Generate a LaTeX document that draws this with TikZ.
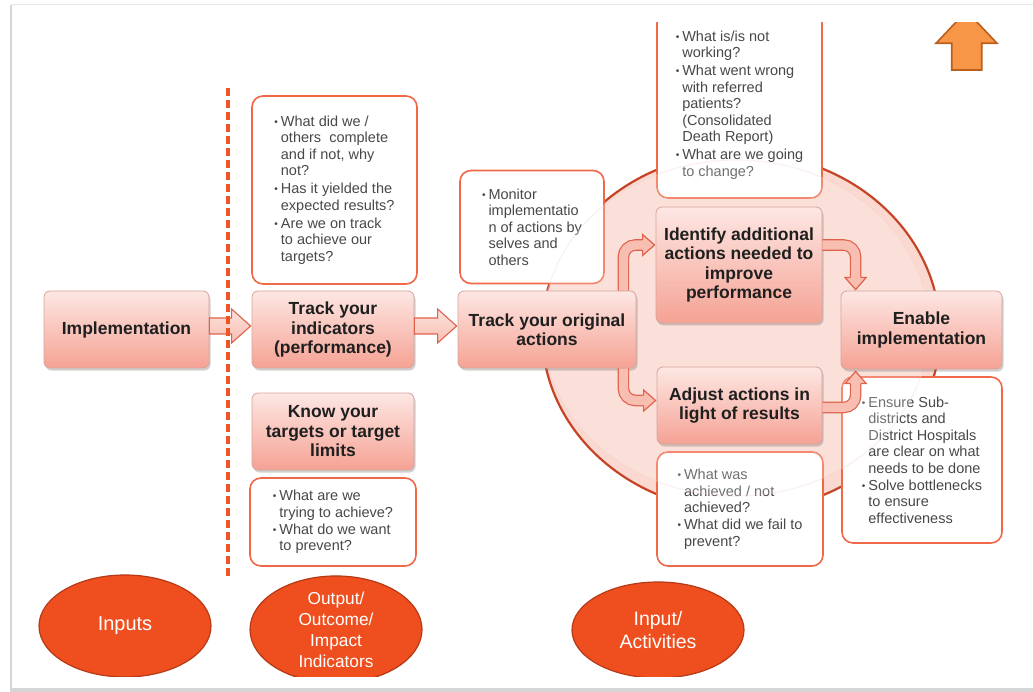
\documentclass[tikz,border=0pt]{standalone}
\usepackage{fontspec}
\setmainfont{Liberation Sans}
\usetikzlibrary{calc,shadows,shapes.geometric}

\definecolor{boxtop}{RGB}{253,231,227}
\definecolor{boxbot}{RGB}{245,162,148}
\definecolor{boxline}{RGB}{214,165,156}
\definecolor{noteline}{RGB}{240,104,72}
\definecolor{notetext}{RGB}{72,72,72}
\definecolor{ringfill}{RGB}{251,216,208}
\definecolor{ringline}{RGB}{198,68,38}
\definecolor{ovalfill}{RGB}{239,78,30}
\definecolor{ovalline}{RGB}{182,58,22}
\definecolor{arrowfill}{RGB}{248,190,178}
\definecolor{arrowline}{RGB}{222,98,74}
\definecolor{upfill}{RGB}{247,150,70}
\definecolor{upline}{RGB}{188,94,30}
\definecolor{dashcol}{RGB}{238,84,36}
\definecolor{framecol}{RGB}{214,214,214}

% bullet and hanging indent for the question lists
\newcommand\notebul{\makebox[6.5pt][l]{\raisebox{0.1ex}{\scalebox{0.7}{\textbullet}}}}
\newcommand\noteind{\hspace*{6.5pt}}

% straight block arrow from #1 (shaft start) to #2 (tip), horizontal
\newcommand\straightarrow[2]{%
  \path[blockarrow] let \p1=(#1), \p2=(#2) in
    (\x1,\y1+8pt) -- (\x2-19pt,\y1+8pt) -- (\x2-19pt,\y1+17pt) -- (\x2,\y1)
    -- (\x2-19pt,\y1-17pt) -- (\x2-19pt,\y1-8pt) -- (\x1,\y1-8pt) -- cycle;}

\begin{document}
\begin{tikzpicture}[x=1pt,y=-1pt,
  stepbox/.style={rounded corners=6pt, draw=boxline, line width=0.8pt,
    top color=boxtop, bottom color=boxbot,
    drop shadow={shadow xshift=1.5pt, shadow yshift=-2.5pt, opacity=0.3, fill=black!60},
    text=black!88, font=\bfseries\fontsize{17.5}{19.5}\selectfont,
    align=center, inner sep=0pt},
  note/.style={rounded corners=11pt, draw=noteline, line width=1.6pt, fill=white,
    text=notetext, font=\fontsize{14.5}{16.5}\selectfont, align=left, inner sep=0pt},
  oval/.style={ellipse, fill=ovalfill, draw=ovalline, line width=1.2pt,
    text=white, align=center, inner sep=0pt},
  blockarrow/.style={top color=arrowfill!45!white, bottom color=arrowfill,
    draw=arrowline, line width=1.1pt, line join=miter},
  bentouter/.style={draw=arrowline, line width=11.6pt, rounded corners=12pt},
  bentinner/.style={draw=arrowfill, line width=9.2pt, rounded corners=12pt},
  benthead/.style={fill=arrowfill},
  bentedge/.style={draw=arrowline, line width=1.2pt, line join=miter},
]
\useasboundingbox (0,0) rectangle (1033,692);

% slide frame
\fill[white] (0,0) rectangle (1033,692);
\draw[framecol!60, line width=1pt] (11,5) -- (1033,5);
\draw[framecol, line width=2.2pt] (11,5) -- (11,690);
\fill[framecol] (10,688) rectangle (1033,692);

\begin{scope}
\clip (12,22.5) rectangle (1033,676.5);

% cycle background
\node[ellipse, fill=ringfill, draw=ringline, line width=2.2pt,
  minimum width=398pt, minimum height=358pt, inner sep=0pt] (ring) at (741,332) {};

% question notes
\node[note, minimum width=165pt, minimum height=188pt] (qtrack) at (334.5,190) {%
\notebul What did we /\\ \noteind others\ \ complete\\ \noteind and if not, why\\ \noteind not?\\[1.5pt]
\notebul Has it yielded the\\ \noteind expected results?\\[1.5pt]
\notebul Are we on track\\ \noteind to achieve our\\ \noteind targets?};

\node[note, minimum width=166pt, minimum height=88pt] (qtarget) at (333,522) {%
\notebul What are we\\ \noteind trying to achieve?\\[0.5pt]
\notebul What do we want\\ \noteind to prevent?};

\node[note, minimum width=144pt, minimum height=113pt] (qmonitor) at (532,227) {%
\notebul Monitor\\ \noteind implementatio\\ \noteind n of actions by\\ \noteind selves and\\ \noteind others};

\node[note, minimum width=165pt, minimum height=186pt] (qwork) at (739.5,105) {%
\notebul What is/is not\\ \noteind working?\\[1.5pt]
\notebul What went wrong\\ \noteind with referred\\ \noteind patients?\\ \noteind (Consolidated\\ \noteind Death Report)\\[1.5pt]
\notebul What are we going\\ \noteind to change?};

\node[note, minimum width=166pt, minimum height=114pt] (qadjust) at (740,509) {%
\notebul What was\\ \noteind achieved / not\\ \noteind achieved?\\[0.5pt]
\notebul What did we fail to\\ \noteind prevent?};

\node[note, minimum width=160pt, minimum height=166pt] (qenable) at (922,460) {%
\notebul Ensure Sub-\\ \noteind districts and\\ \noteind District Hospitals\\ \noteind are clear on what\\ \noteind needs to be done\\[0.5pt]
\notebul Solve bottlenecks\\ \noteind to ensure\\ \noteind effectiveness};

% soft highlight over the cycle
\path[fill=white, fill opacity=0.22, draw=ringline!25, draw opacity=0.3, line width=1.2pt]
  (736,328) ellipse [x radius=193pt, y radius=168pt];

% process steps
\node[stepbox, minimum width=165pt, minimum height=77pt] (impl) at (126.5,329.5) {Implementation};
\node[stepbox, minimum width=162pt, minimum height=77pt] (trackind) at (333,329.5) {Track your\\indicators\\(performance)};
\node[stepbox, minimum width=162pt, minimum height=77pt] (know) at (333,431.5) {Know your\\targets or target\\limits};
\node[stepbox, minimum width=178pt, minimum height=77pt] (orig) at (547,329.5) {Track your original\\actions};
\node[stepbox, minimum width=166pt, minimum height=116pt] (identify) at (739,265) {Identify additional\\actions needed to\\improve\\performance};
\node[stepbox, minimum width=165pt, minimum height=77pt] (adjust) at (739.5,405.5) {Adjust actions in\\light of results};
\node[stepbox, minimum width=161pt, minimum height=78pt] (enable) at (921.5,330) {Enable\\implementation};

% straight block arrows
\coordinate (s1) at ($(impl.east)+(0,-3.5)$);
\coordinate (t1) at ($(trackind.west)+(-1,-3.5)$);
\straightarrow{s1}{t1}
\coordinate (s2) at ($(trackind.east)+(0,-3.5)$);
\coordinate (t2) at ($(orig.west)+(-1,-3.5)$);
\straightarrow{s2}{t2}

% bent arrow: original actions -> identify
\coordinate (bA0) at ($(orig.north east)+(-13,0)$);
\coordinate (bAt) at ($(identify.west)+(-1,-20)$);
\coordinate (bAb) at ($(bAt)+(-12,0)$);
\draw[bentouter] (bA0) |- (bAb);
\draw[bentinner] (bA0) |- ($(bAb)+(1.5,0)$);
\fill[benthead] ($(bAb)+(0,-10.5)$) -- (bAt) -- ($(bAb)+(0,10.5)$) -- cycle;
\draw[bentedge] ($(bAb)+(0,-5.2)$) -- ($(bAb)+(0,-10.5)$) -- (bAt) -- ($(bAb)+(0,10.5)$) -- ($(bAb)+(0,5.2)$);

% bent arrow: original actions -> adjust
\coordinate (bB0) at ($(orig.south east)+(-13,0)$);
\coordinate (bBt) at ($(adjust.west)+(-1,-5)$);
\coordinate (bBb) at ($(bBt)+(-12,0)$);
\draw[bentouter] (bB0) |- (bBb);
\draw[bentinner] (bB0) |- ($(bBb)+(1.5,0)$);
\fill[benthead] ($(bBb)+(0,-10.5)$) -- (bBt) -- ($(bBb)+(0,10.5)$) -- cycle;
\draw[bentedge] ($(bBb)+(0,-5.2)$) -- ($(bBb)+(0,-10.5)$) -- (bBt) -- ($(bBb)+(0,10.5)$) -- ($(bBb)+(0,5.2)$);

% bent arrow: identify -> enable
\coordinate (bC0) at ($(identify.east)+(0,-20)$);
\coordinate (bCt) at ($(enable.north west)+(15,-1)$);
\coordinate (bCb) at ($(bCt)+(0,-12)$);
\draw[bentouter] (bC0) -| (bCb);
\draw[bentinner] (bC0) -| ($(bCb)+(0,1.5)$);
\fill[benthead] ($(bCb)+(-10.5,0)$) -- (bCt) -- ($(bCb)+(10.5,0)$) -- cycle;
\draw[bentedge] ($(bCb)+(-5.2,0)$) -- ($(bCb)+(-10.5,0)$) -- (bCt) -- ($(bCb)+(10.5,0)$) -- ($(bCb)+(5.2,0)$);

% bent arrow: adjust -> enable
\coordinate (bD0) at ($(adjust.east)+(0,2)$);
\coordinate (bDt) at ($(enable.south west)+(15,2)$);
\coordinate (bDb) at ($(bDt)+(0,12)$);
\draw[bentouter] (bD0) -| (bDb);
\draw[bentinner] (bD0) -| ($(bDb)+(0,-1.5)$);
\fill[benthead] ($(bDb)+(-10.5,0)$) -- (bDt) -- ($(bDb)+(10.5,0)$) -- cycle;
\draw[bentedge] ($(bDb)+(-5.2,0)$) -- ($(bDb)+(-10.5,0)$) -- (bDt) -- ($(bDb)+(10.5,0)$) -- ($(bDb)+(5.2,0)$);

% divider between inputs and indicators
\draw[dashcol, line width=3.2pt, dash pattern=on 8pt off 4pt] (228,88) -- (228,577);

% column labels
\node[oval, minimum width=172pt, minimum height=102pt,
  font=\fontsize{20}{23}\selectfont] (inputs) at (125,626) {Inputs};
\node[oval, minimum width=172pt, minimum height=95pt,
  font=\fontsize{17.3}{21}\selectfont] (outputs) at (336,629.5) {Output/\\Outcome/\\Impact\\Indicators};
\node[oval, minimum width=172pt, minimum height=96pt,
  font=\fontsize{19.5}{23}\selectfont] (activities) at (658,630) {Input/\\Activities};

% up arrow in the corner
\draw[fill=upfill, draw=upline, line width=1.6pt, line join=miter]
  (951.7,70) -- (951.7,43.3) -- (936,43.3) -- (966.5,11) -- (997,43.3)
  -- (981.7,43.3) -- (981.7,70) -- cycle;
\end{scope}
\end{tikzpicture}
\end{document}
